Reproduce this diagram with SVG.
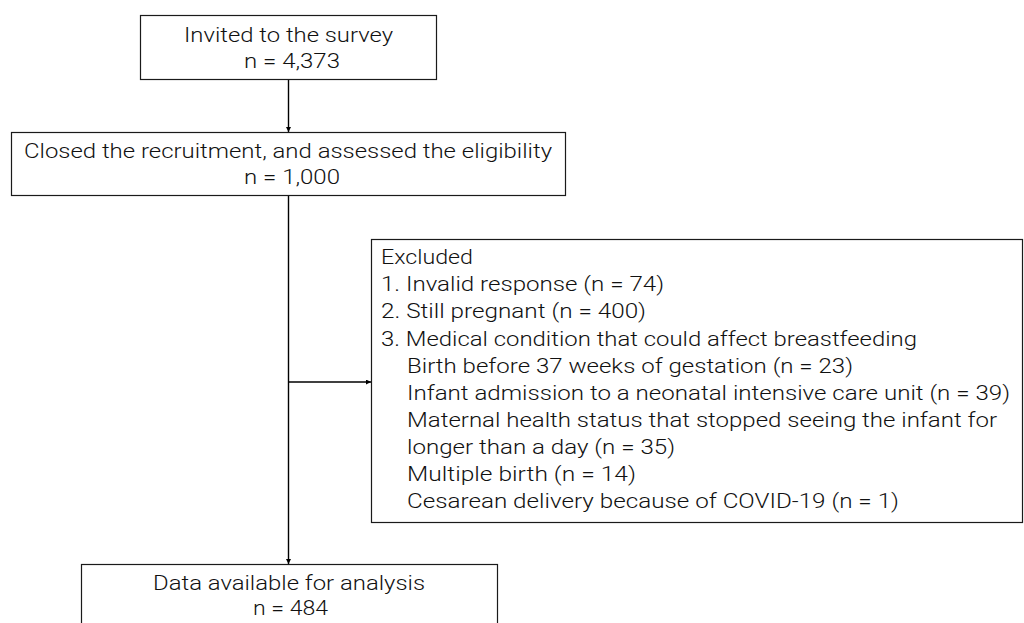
<svg xmlns="http://www.w3.org/2000/svg" width="1024" height="623" viewBox="0 0 1024 623">
<style>
.box{fill:#fff;stroke:#1a1a1a;stroke-width:1.2}
.t{font-family:Roboto,"Noto Sans CJK JP",sans-serif;font-size:21px;font-weight:300;fill:#111}
.ln{stroke:#000;stroke-width:1.4;fill:none;marker-end:url(#ah)}
</style>
<defs>
<marker id="ah" viewBox="0 0 10 10" refX="10" refY="5" markerWidth="5" markerHeight="5" markerUnits="userSpaceOnUse" orient="auto">
<path d="M0,0 L10,5 L0,10 z" fill="#000"/>
</marker>
</defs>
<rect width="1024" height="623" fill="#fff"/>
<g id="connectors">
<line class="ln" x1="288.5" y1="79" x2="288.5" y2="132"/>
<line class="ln" x1="288.5" y1="195" x2="288.5" y2="564"/>
<line class="ln" x1="288.5" y1="382" x2="371" y2="382"/>
</g>
<g id="invited">
<rect class="box" x="140.5" y="15.5" width="296" height="64"/>
<text class="t" x="184" y="42" textLength="209" lengthAdjust="spacingAndGlyphs">Invited to the survey</text>
<text class="t" x="244" y="68" textLength="96" lengthAdjust="spacingAndGlyphs">n = 4,373</text>
</g>
<g id="closed">
<rect class="box" x="11.5" y="132.5" width="554" height="63"/>
<text class="t" x="24" y="158" textLength="528" lengthAdjust="spacingAndGlyphs">Closed the recruitment, and assessed the eligibility</text>
<text class="t" x="244" y="184" textLength="96" lengthAdjust="spacingAndGlyphs">n = 1,000</text>
</g>
<g id="excluded">
<rect class="box" x="371.5" y="239.5" width="651" height="283"/>
<text class="t" x="381" y="264" textLength="92" lengthAdjust="spacingAndGlyphs">Excluded</text>
<text class="t" x="381" y="291" textLength="283" lengthAdjust="spacingAndGlyphs">1. Invalid response (n = 74)</text>
<text class="t" x="381" y="318" textLength="265" lengthAdjust="spacingAndGlyphs">2. Still pregnant (n = 400)</text>
<text class="t" x="381" y="345.5" textLength="536" lengthAdjust="spacingAndGlyphs">3. Medical condition that could affect breastfeeding</text>
<text class="t" x="407" y="372.5" textLength="446" lengthAdjust="spacingAndGlyphs">Birth before 37 weeks of gestation (n = 23)</text>
<text class="t" x="407" y="399.5" textLength="603" lengthAdjust="spacingAndGlyphs">Infant admission to a neonatal intensive care unit (n = 39)</text>
<text class="t" x="407" y="426.5" textLength="590" lengthAdjust="spacingAndGlyphs">Maternal health status that stopped seeing the infant for</text>
<text class="t" x="407" y="453.5" textLength="268" lengthAdjust="spacingAndGlyphs">longer than a day (n = 35)</text>
<text class="t" x="407" y="480.5" textLength="229" lengthAdjust="spacingAndGlyphs">Multiple birth (n = 14)</text>
<text class="t" x="407" y="508" textLength="492" lengthAdjust="spacingAndGlyphs">Cesarean delivery because of COVID-19 (n = 1)</text>
</g>
<g id="analysis">
<rect class="box" x="81.5" y="564.5" width="416" height="80"/>
<text class="t" x="153" y="590" textLength="272" lengthAdjust="spacingAndGlyphs">Data available for analysis</text>
<text class="t" x="253" y="615" textLength="75" lengthAdjust="spacingAndGlyphs">n = 484</text>
</g>
</svg>
